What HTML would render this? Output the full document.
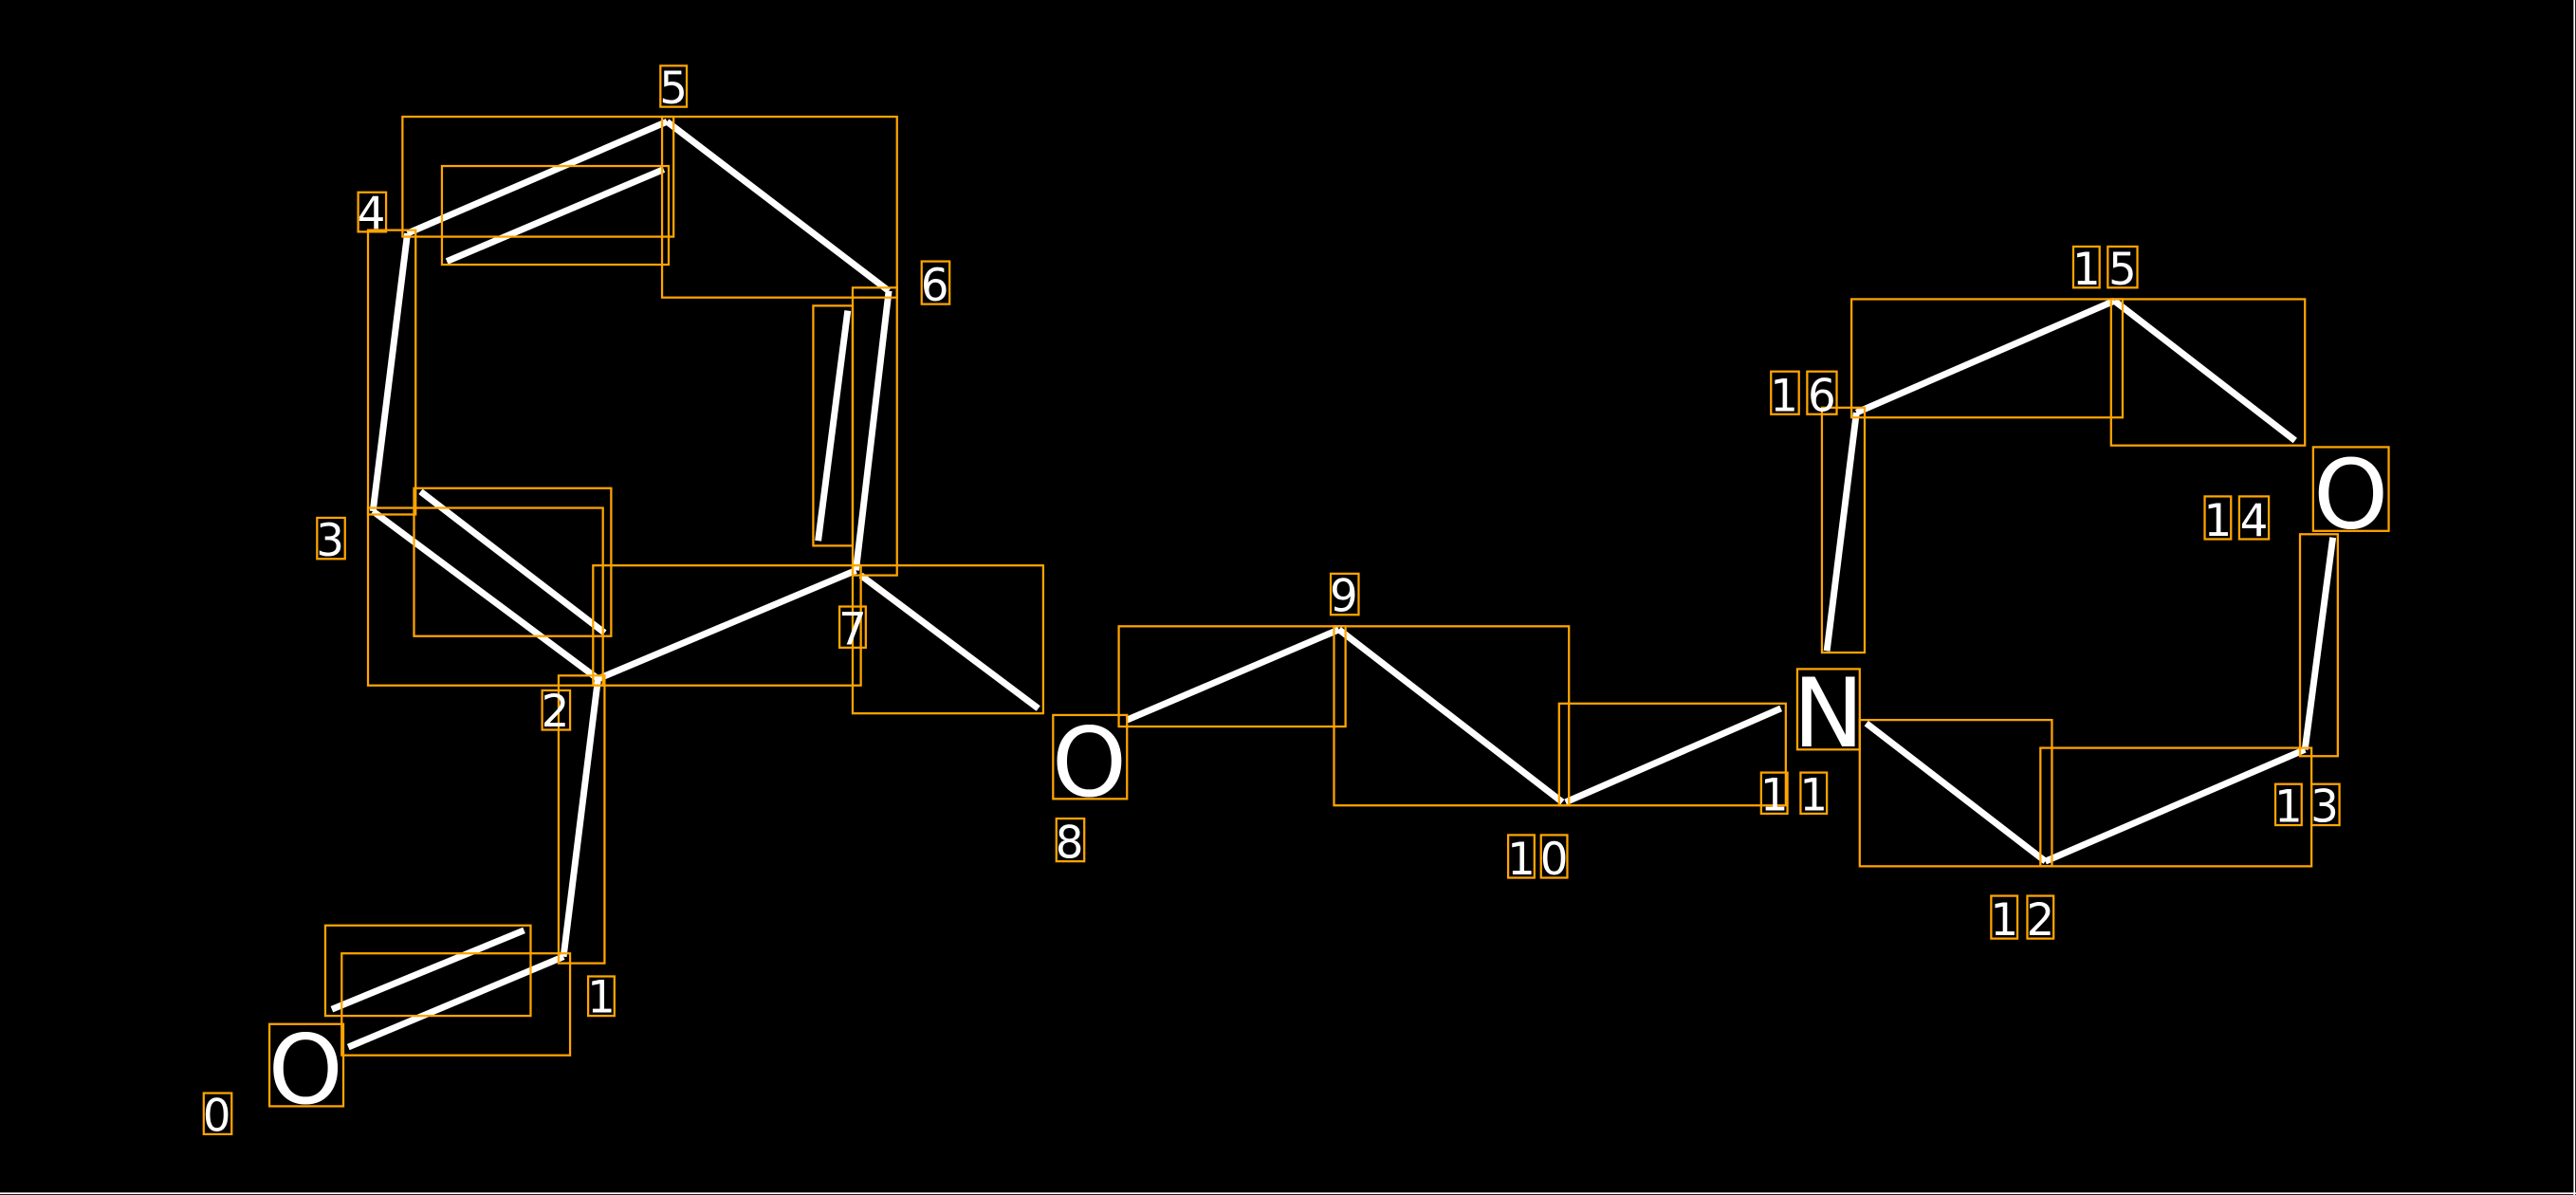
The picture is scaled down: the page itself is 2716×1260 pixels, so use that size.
<!DOCTYPE html>
<html><head><style>html,body{margin:0;padding:0;background:#000;}svg{display:block}</style></head>
<body>
<svg width="2716" height="1260" viewBox="0 0 1568 727" preserveAspectRatio="none" xmlns="http://www.w3.org/2000/svg">
<rect x="0" y="0" width="1568" height="727" fill="#000"/>
<line x1="0" y1="726" x2="1568" y2="726" stroke="#fff" stroke-width="1"/>
<line x1="1567" y1="0" x2="1567" y2="727" stroke="#fff" stroke-width="1"/>
<g stroke="#fff" stroke-width="4" stroke-linecap="butt">
<line x1="212" y1="637" x2="343" y2="582"/>
<line x1="202" y1="614" x2="319" y2="566"/>
<line x1="343" y1="582" x2="364" y2="413"/>
<line x1="364" y1="413" x2="227" y2="311"/>
<line x1="368" y1="385" x2="256" y2="299"/>
<line x1="227" y1="311" x2="248" y2="142"/>
<line x1="248" y1="142" x2="406" y2="74"/>
<line x1="272" y1="159" x2="404" y2="103"/>
<line x1="406" y1="74" x2="541" y2="177"/>
<line x1="541" y1="177" x2="521" y2="347"/>
<line x1="516" y1="189" x2="498" y2="329"/>
<line x1="521" y1="347" x2="364" y2="413"/>
<line x1="524" y1="350" x2="632" y2="431"/>
<line x1="686" y1="438" x2="815" y2="383"/>
<line x1="815" y1="383" x2="951" y2="488"/>
<line x1="953" y1="488" x2="1084" y2="431"/>
<line x1="1136" y1="440" x2="1245" y2="524"/>
<line x1="1245" y1="524" x2="1403" y2="456"/>
<line x1="1403" y1="456" x2="1420" y2="327"/>
<line x1="1287" y1="183" x2="1397" y2="268"/>
<line x1="1287" y1="183" x2="1130" y2="251"/>
<line x1="1130" y1="251" x2="1112" y2="396"/>
</g>
<g fill="none" stroke="#FFA500" stroke-width="1.3">
<rect x="164" y="623" width="45" height="50"/>
<rect x="208" y="580" width="139" height="62"/>
<rect x="198" y="563" width="125" height="55"/>
<rect x="340" y="411" width="28" height="175"/>
<rect x="224" y="309" width="143" height="108"/>
<rect x="252" y="297" width="120" height="90"/>
<rect x="224" y="140" width="29" height="173"/>
<rect x="245" y="71" width="165" height="73"/>
<rect x="269" y="101" width="138" height="60"/>
<rect x="403" y="71" width="143" height="110"/>
<rect x="519" y="175" width="27" height="175"/>
<rect x="495" y="186" width="24" height="146"/>
<rect x="361" y="344" width="163" height="73"/>
<rect x="519" y="344" width="116" height="90"/>
<rect x="641" y="435" width="45" height="51"/>
<rect x="681" y="381" width="138" height="61"/>
<rect x="812" y="381" width="143" height="109"/>
<rect x="949" y="428" width="138" height="62"/>
<rect x="1094" y="407" width="38" height="49"/>
<rect x="1132" y="438" width="117" height="89"/>
<rect x="1242" y="455" width="165" height="72"/>
<rect x="1400" y="325" width="23" height="135"/>
<rect x="1408" y="272" width="46" height="51"/>
<rect x="1285" y="182" width="118" height="89"/>
<rect x="1127" y="182" width="165" height="72"/>
<rect x="1109" y="248" width="26" height="149"/>
<!-- label boxes -->
<rect x="124" y="665" width="17" height="25"/>
<rect x="358" y="594" width="16" height="24"/>
<rect x="330" y="420" width="17" height="24"/>
<rect x="193" y="315" width="17" height="25"/>
<rect x="218" y="117" width="17" height="24"/>
<rect x="402" y="40" width="16" height="25"/>
<rect x="561" y="159" width="17" height="26"/>
<rect x="511" y="369" width="16" height="25"/>
<rect x="643" y="498" width="17" height="26"/>
<rect x="810" y="349" width="17" height="25"/>
<rect x="918" y="508" width="16" height="26"/><rect x="938" y="508" width="16" height="26"/>
<rect x="1072" y="470" width="16" height="25"/><rect x="1096" y="470" width="16" height="25"/>
<rect x="1212" y="545" width="16" height="26"/><rect x="1234" y="545" width="16" height="26"/>
<rect x="1385" y="477" width="16" height="25"/><rect x="1407" y="477" width="17" height="25"/>
<rect x="1342" y="302" width="16" height="26"/><rect x="1363" y="302" width="18" height="26"/>
<rect x="1262" y="150" width="16" height="25"/><rect x="1283" y="150" width="18" height="25"/>
<rect x="1078" y="226" width="17" height="26"/><rect x="1100" y="226" width="18" height="26"/>
</g>
<g fill="#fff" font-family="'DejaVu Sans','Liberation Sans',sans-serif" text-anchor="middle">
<g font-size="58">
<text x="186" y="671">O</text>
<text x="663" y="484">O</text>
<text x="1113" y="454">N</text>
<text x="1431" y="321">O</text>
</g>
<g font-size="27">
<text x="132" y="688">0</text>
<text x="366" y="616">1</text>
<text x="338" y="442">2</text>
<text x="201" y="338">3</text>
<text x="226" y="139">4</text>
<text x="410" y="63">5</text>
<text x="569" y="183">6</text>
<text x="519" y="392">7</text>
<text x="651" y="522">8</text>
<text x="818" y="372">9</text>
<text x="926" y="532">1</text><text x="946" y="532">0</text>
<text x="1080" y="493">1</text><text x="1104" y="493">1</text>
<text x="1220" y="569">1</text><text x="1242" y="569">2</text>
<text x="1393" y="500">1</text><text x="1415" y="500">3</text>
<text x="1350" y="326">1</text><text x="1372" y="326">4</text>
<text x="1270" y="173">1</text><text x="1292" y="173">5</text>
<text x="1086" y="250">1</text><text x="1109" y="250">6</text>
</g>
</g>
</svg>
</body></html>
